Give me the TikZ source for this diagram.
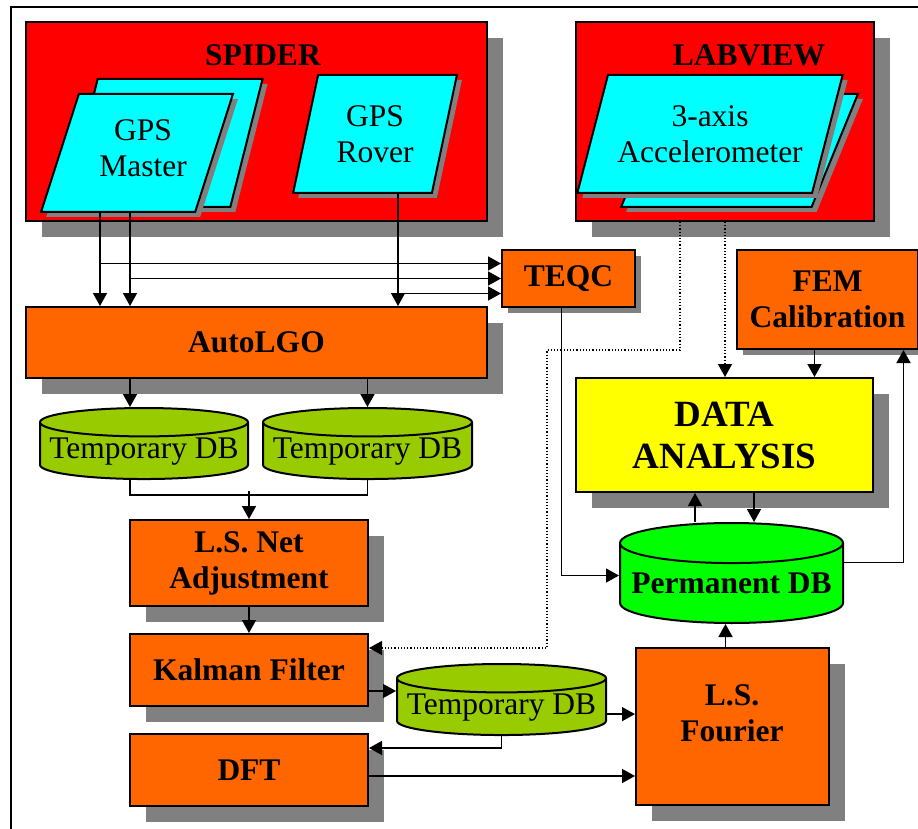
\documentclass[tikz,border=0pt]{standalone}
\usepackage{fontspec}
\setmainfont{Liberation Serif}
\usetikzlibrary{shapes.geometric,shadows,arrows.meta}
\definecolor{framered}{RGB}{255,0,0}
\definecolor{doccyan}{RGB}{0,255,255}
\definecolor{procorange}{RGB}{255,102,0}
\definecolor{dbolive}{RGB}{153,204,0}
\definecolor{dbgreen}{RGB}{0,255,0}
\definecolor{anayellow}{RGB}{255,255,0}
\definecolor{shadowgray}{RGB}{128,128,128}
\begin{document}
\begin{tikzpicture}[x=1pt,y=-1pt,
  font=\fontsize{31.5}{36}\selectfont,
  bigshadow/.style={general shadow={fill=shadowgray,shadow xshift=16pt,shadow yshift=-16pt}},
  smallshadow/.style={general shadow={fill=shadowgray,shadow xshift=6pt,shadow yshift=-6pt}},
  frame/.style={draw,line width=2pt,fill=framered,bigshadow},
  proc/.style={draw,line width=2pt,fill=procorange,font=\fontsize{31.5}{36}\selectfont\bfseries,align=center,inner sep=0pt},
  doc/.style={trapezium,trapezium stretches=true,draw,line width=2pt,fill=doccyan,align=center,inner sep=4pt,
    general shadow={fill=shadowgray,shadow xshift=5pt,shadow yshift=-5pt}},
  db/.style={cylinder,shape border rotate=90,draw,line width=2pt,align=center,inner sep=0pt,aspect=0.15,anchor=north},
  title/.style={font=\fontsize{31.5}{36}\selectfont\bfseries},
  link/.style={line width=1.5pt,-{Triangle[length=13pt,width=14pt]}},
  dotlink/.style={link,line width=1.2pt,dotted}]

  \useasboundingbox (0,0) rectangle (918,829);
  \draw[line width=2pt] (11,829) -- (11,7) -- (918,7);

  % sources
  \node[frame,minimum width=461pt,minimum height=199pt] (spider) at (256.5,121.5) {};
  \node[frame,minimum width=298pt,minimum height=199pt] (labview) at (725,121.5) {};
  \node[title] (spidertext) at (263,55) {SPIDER};
  \node[title] (labviewtext) at (749,55) {LABVIEW};

  \node[doc,trapezium left angle=73,trapezium right angle=107,minimum width=198pt,minimum height=128pt] (masterback) at (164,143) {\phantom{M}};
  \node[doc,trapezium left angle=72,trapezium right angle=108,minimum width=192pt,minimum height=118pt] (master) at (137,153) {};
  \node (mastertext) at (143,148) [align=center] {GPS\\Master};
  \node[doc,trapezium left angle=74,trapezium right angle=106,minimum width=164pt,minimum height=118pt] (rover) at (375,134) {GPS\\Rover};
  \node[doc,trapezium left angle=68,trapezium right angle=112,minimum width=237pt,minimum height=113pt] (accback) at (739.5,150.5) {\phantom{M}};
  \node[doc,trapezium left angle=66,trapezium right angle=114,minimum width=266pt,minimum height=118pt] (accel) at (710,134) {3-axis\\Accelerometer};

  % processing
  \node[proc,smallshadow,minimum width=133pt,minimum height=57pt] (teqc) at (568.5,278.5) {TEQC};
  \node[proc,bigshadow,minimum width=461pt,minimum height=71pt] (autolgo) at (256.5,342.5) {AutoLGO};
  \node[proc,smallshadow,minimum width=181pt,minimum height=99pt] (fem) at (827.5,299.5) {FEM\\Calibration};
  \node[proc,bigshadow,fill=anayellow,minimum width=297pt,minimum height=114pt,
    font=\fontsize{37}{42}\selectfont\bfseries] (data) at (724.5,435) {DATA\\ANALYSIS};
  \node[db,fill=dbolive,minimum width=208pt,minimum height=60pt] (tempa) at (144,407) {Temporary DB};
  \node[db,fill=dbolive,minimum width=209pt,minimum height=60pt] (tempb) at (367.5,407) {Temporary DB};
  \node[proc,bigshadow,minimum width=238pt,minimum height=86pt] (lsnet) at (249,563) {L.S. Net\\Adjustment};
  \node[db,fill=dbgreen,aspect=0.2,minimum width=223pt,minimum height=100pt,font=\fontsize{31.5}{36}\selectfont\bfseries] (permdb) at (731.5,522) {Permanent DB};
  \node[proc,bigshadow,minimum width=238pt,minimum height=72pt] (kalman) at (249,670) {Kalman Filter};
  \node[db,fill=dbolive,minimum width=209pt,minimum height=61pt] (tempc) at (501.5,663) {Temporary DB};
  \node[proc,bigshadow,minimum width=238pt,minimum height=72pt] (dft) at (249,770) {DFT};
  \node[proc,bigshadow,minimum width=193pt,minimum height=157pt] (fourier) at (732.5,726.5) {};
  \node[title,align=center] (fouriertext) at (732,713) {L.S.\\Fourier};

  % connections
  \coordinate (mA) at ([xshift=-37pt]master.south);
  \coordinate (mB) at ([xshift=-7pt]master.south);
  \coordinate (rv) at ([xshift=23pt]rover.south);
  \coordinate (tA) at ([yshift=15pt]teqc.west);
  \coordinate (tB) at (teqc.west);
  \coordinate (tC) at ([yshift=-15pt]teqc.west);
  \draw[link] (mA) -- (mA |- autolgo.north);
  \draw[link] (mB) -- (mB |- autolgo.north);
  \draw[link] (rv) -- (rv |- autolgo.north);
  \draw[link] (mA |- tA) -- (tA);
  \draw[link] (mB |- tB) -- (tB);
  \draw[link] (rv |- tC) -- (tC);

  \draw[link] (autolgo.south -| mB) -- (tempa.north -| mB);
  \draw[link] (autolgo.south -| tempb.north) -- (tempb.north);
  \draw[line width=1.5pt] (tempa.south -| mB) -- ++(0,15) -| (tempb.south);
  \draw[link] ([yshift=28pt]lsnet.north) -- (lsnet.north);
  \draw[link] (lsnet.south) -- (kalman.north);

  \coordinate (kA) at ([yshift=-21pt]kalman.east);
  \draw[link] (kA) -- (kA -| tempc.west);
  \coordinate (cA) at ([yshift=-7pt]tempc.east);
  \draw[link] (cA) -- (cA -| fourier.west);
  \draw[link] (tempc.south) |- ([yshift=22pt]dft.east);
  \coordinate (dA) at ([yshift=-6pt]dft.east);
  \draw[link] (dA) -- (dA -| fourier.west);
  \coordinate (fA) at ([xshift=-7pt]fourier.north);
  \draw[link] (fA) -- (fA |- permdb.south);

  \draw[link] ([xshift=-7pt]teqc.south) |- ([yshift=8pt]permdb.west);
  \draw[link] ([yshift=21pt]permdb.east) -| ([xshift=76pt]fem.south);
  \coordinate (eA) at ([xshift=-13pt]fem.south);
  \draw[link] (eA) -- (eA |- data.north);
  \coordinate (aA) at ([xshift=-29.5pt]data.south);
  \coordinate (aB) at ([xshift=29.5pt]data.south);
  \draw[link] (aA |- permdb.north) -- (aA);
  \draw[link] (aB) -- (aB |- permdb.north);

  \draw[dotlink] (labview.south) -- (labview.south |- data.north);
  \draw[dotlink] ([xshift=-45pt]labview.south) -- ++(0,128) -- ++(-133,0) |- ([yshift=22pt]kalman.east);
\end{tikzpicture}
\end{document}
